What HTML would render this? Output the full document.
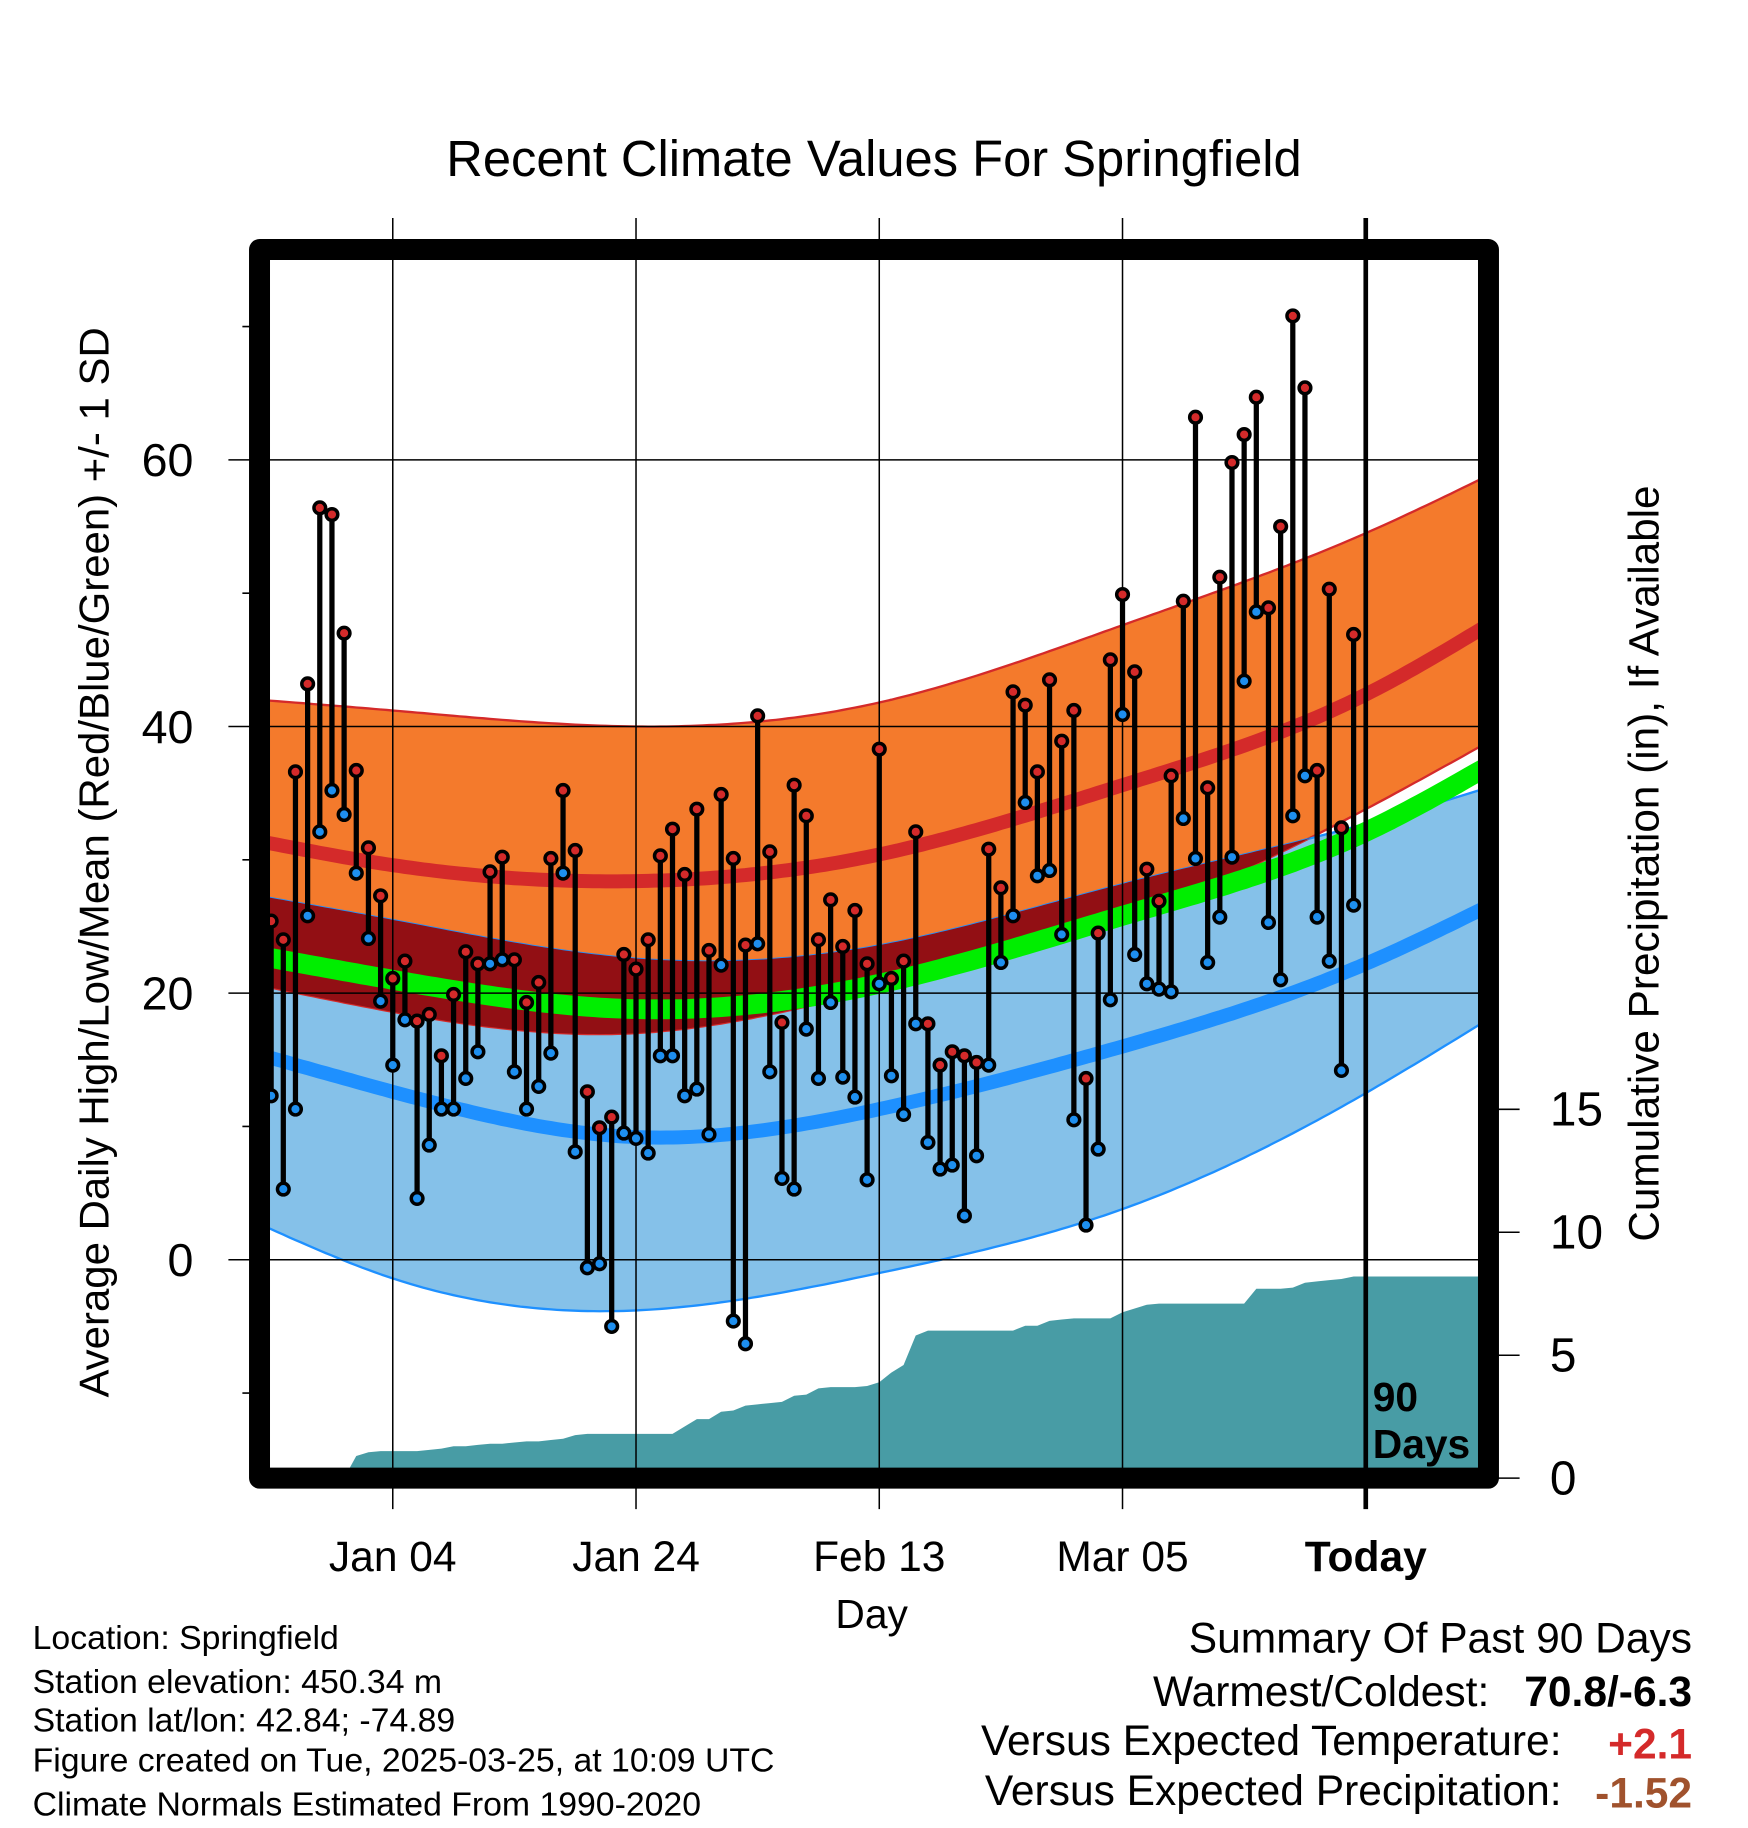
<!DOCTYPE html>
<html><head><meta charset="utf-8"><style>html,body{margin:0;padding:0;background:#fff}svg{display:block}text{font-family:"Liberation Sans",sans-serif}</style></head>
<body>
<svg id="chart" xmlns="http://www.w3.org/2000/svg" width="1748" height="1828" viewBox="0 0 1500 1568.6">
<rect x="0" y="0" width="1500" height="1568.6" fill="#fff"/>
<defs><clipPath id="pc"><rect x="222.7" y="214.1" width="1054.6" height="1054.3"/></clipPath></defs>
<text x="750" y="151" font-size="43.5" text-anchor="middle">Recent Climate Values For Springfield</text>
<g id="bands" clip-path="url(#pc)"></g>
<g id="grid"></g>
<g id="marks" clip-path="url(#pc)"></g>
<rect x="222.7" y="214.1" width="1054.6" height="1054.3" fill="none" stroke="#000" stroke-width="18" stroke-linejoin="round"/>
<text x="1178" y="1211" font-size="35" font-weight="bold">90</text>
<text x="1178" y="1251" font-size="35" font-weight="bold">Days</text>
<text transform="translate(93,740) rotate(-90)" font-size="36" text-anchor="middle">Average Daily High/Low/Mean (Red/Blue/Green) +/- 1 SD</text>
<text transform="translate(1423,741) rotate(-90)" font-size="36.3" text-anchor="middle">Cumulative Precipitation (in), If Available</text>
<text x="748" y="1397" font-size="35" text-anchor="middle">Day</text>
<g font-size="29">
<text x="28" y="1415">Location: Springfield</text>
<text x="28" y="1453">Station elevation: 450.34 m</text>
<text x="28" y="1486">Station lat/lon: 42.84; -74.89</text>
<text x="28" y="1520">Figure created on Tue, 2025-03-25, at 10:09 UTC</text>
<text x="28" y="1558">Climate Normals Estimated From 1990-2020</text>
</g>
<g font-size="36.5">
<text x="1452" y="1418" text-anchor="end">Summary Of Past 90 Days</text>
<text x="1278" y="1464" text-anchor="end">Warmest/Coldest:</text>
<text x="1452" y="1464" text-anchor="end" font-weight="bold">70.8/-6.3</text>
<text x="1340" y="1506" text-anchor="end">Versus Expected Temperature:</text>
<text x="1452" y="1509" text-anchor="end" font-weight="bold" fill="#d42a2a">+2.1</text>
<text x="1340" y="1549" text-anchor="end">Versus Expected Precipitation:</text>
<text x="1452" y="1551" text-anchor="end" font-weight="bold" fill="#a0522d">-1.52</text>
</g>
</svg>
<script>
const normDays=[-91,-80,-60,-40,-20,0,10];
const highUpper=[42,41.2,40,41.8,47.6,54.5,58.8];
const normHigh=[31.4,29.6,28.4,30.4,35.6,42.4,47.6];
const highLower=[20.6,18.6,17.0,20.3,25.5,33.8,38.8];
const normMean=[22.8,21,18.8,20.7,25.8,32.1,37];
const lowUpper=[27.3,25.5,22.6,23.6,28.2,32.7,35.4];
const normLow=[15.4,12.6,9.2,11.3,16,22.2,26.5];
const lowLower=[2.7,-1.4,-3.8,-1.0,3.8,12.5,18];
const highs=[25.4,24,36.6,43.2,56.4,55.9,47,36.7,30.9,27.3,21.1,22.4,17.9,18.4,15.3,19.9,23.1,22.2,29.1,30.2,22.5,19.3,20.8,30.1,35.2,30.7,12.6,9.9,10.7,22.9,21.8,24,30.3,32.3,28.9,33.8,23.2,34.9,30.1,23.6,40.8,30.6,17.8,35.6,33.3,24,27,23.5,26.2,22.2,38.3,21.1,22.4,32.1,17.7,14.6,15.6,15.3,14.8,30.8,27.9,42.6,41.6,36.6,43.5,38.9,41.2,13.6,24.5,45,49.9,44.1,29.3,26.9,36.3,49.4,63.2,35.4,51.2,59.8,61.9,64.7,48.9,55,70.8,65.4,36.7,50.3,32.4,46.9];
const lows=[12.3,5.3,11.3,25.8,32.1,35.2,33.4,29,24.1,19.4,14.6,18,4.6,8.6,11.3,11.3,13.6,15.6,22.2,22.5,14.1,11.3,13,15.5,29,8.1,-0.6,-0.3,-5,9.5,9.1,8,15.3,15.3,12.3,12.8,9.4,22.1,-4.6,-6.3,23.7,14.1,6.1,5.3,17.3,13.6,19.3,13.7,12.2,6,20.7,13.8,10.9,17.7,8.8,6.8,7.1,3.3,7.8,14.6,22.3,25.8,34.3,28.8,29.2,24.4,10.5,2.6,8.3,19.5,40.9,22.9,20.7,20.3,20.1,33.1,30.1,22.3,25.7,30.2,43.4,48.6,25.3,21,33.3,36.3,25.7,22.4,14.2,26.6];
const precipCum=[0,0,0,0,0,0,0,0.9,1.05,1.1,1.1,1.1,1.1,1.15,1.2,1.3,1.3,1.35,1.4,1.4,1.45,1.5,1.5,1.55,1.6,1.75,1.8,1.8,1.8,1.8,1.8,1.8,1.8,1.8,2.1,2.4,2.4,2.7,2.75,2.95,3.0,3.05,3.1,3.35,3.4,3.65,3.7,3.7,3.7,3.75,3.9,4.3,4.6,5.8,6.0,6.0,6.0,6.0,6.0,6.0,6.0,6.0,6.2,6.2,6.4,6.45,6.5,6.5,6.5,6.5,6.75,6.9,7.05,7.1,7.1,7.1,7.1,7.1,7.1,7.1,7.1,7.7,7.7,7.7,7.75,7.95,8.0,8.05,8.1,8.2];
const tempTicks=[0,20,40,60];
const tempMinor=[-10,10,30,50,70];
const precipTicks=[0,5,10,15];
const dateTicks=[-80,-60,-40,-20,0];
const dateLabels=["Jan 04","Jan 24","Feb 13","Mar 05","Today"];

const X0=222.7,X1=1277.3,Y0=214.1,Y1=1268.4;
const xS=d=>1172+d*10.437;
const yT=t=>1081-t*11.44;
const yP=p=>1268.4-p*21.1;
const NS="http://www.w3.org/2000/svg";
function mk(tag,attrs,parent){const e=document.createElementNS(NS,tag);for(const k in attrs)e.setAttribute(k,attrs[k]);parent.appendChild(e);return e;}
// natural cubic spline
function splineCoefs(ys){
  const xs=normDays,n=xs.length,h=[],al=[],l=[1],mu=[0],z=[0],c=new Array(n).fill(0);
  for(let i=0;i<n-1;i++)h.push(xs[i+1]-xs[i]);
  for(let i=1;i<n-1;i++)al[i]=3/h[i]*(ys[i+1]-ys[i])-3/h[i-1]*(ys[i]-ys[i-1]);
  for(let i=1;i<n-1;i++){l[i]=2*(xs[i+1]-xs[i-1])-h[i-1]*mu[i-1];mu[i]=h[i]/l[i];z[i]=(al[i]-h[i-1]*z[i-1])/l[i];}
  const b=[],d=[];
  for(let j=n-2;j>=0;j--){c[j]=(j===0?0:z[j]-mu[j]*c[j+1]);b[j]=(ys[j+1]-ys[j])/h[j]-h[j]*(c[j+1]+2*c[j])/3;d[j]=(c[j+1]-c[j])/(3*h[j]);}
  c[0]=0;
  for(let j=0;j<n-1;j++){b[j]=(ys[j+1]-ys[j])/h[j]-h[j]*(c[j+1]+2*c[j])/3;d[j]=(c[j+1]-c[j])/(3*h[j]);}
  return {b,c,d,ys};
}
const cache=new Map();
function interp(arr,x){
  if(!cache.has(arr))cache.set(arr,splineCoefs(arr));
  const s=cache.get(arr);
  let i=0;while(i<normDays.length-2&&x>normDays[i+1])i++;
  const dx=x-normDays[i];
  return s.ys[i]+s.b[i]*dx+s.c[i]*dx*dx+s.d[i]*dx*dx*dx;
}
const samp=[];for(let d=-91;d<=10.01;d+=0.5)samp.push(d);
function lineOf(arr){return samp.map(d=>xS(d).toFixed(1)+","+yT(interp(arr,d)).toFixed(1)).join(" ");}
function bandOf(fu,fl){
  const top=samp.map(d=>xS(d).toFixed(1)+","+yT(fu(d)).toFixed(1));
  const bot=samp.slice().reverse().map(d=>xS(d).toFixed(1)+","+yT(fl(d)).toFixed(1));
  return top.concat(bot).join(" ");
}
const bands=document.getElementById('bands');
const lb=mk('polygon',{points:bandOf(d=>interp(lowUpper,d),d=>interp(lowLower,d)),fill:'#85c1e9',stroke:'#1e90ff','stroke-width':2},bands);


const ob=mk('polygon',{points:bandOf(d=>interp(highUpper,d),d=>interp(highLower,d)),fill:'#f47a2c',stroke:'#d42a2a','stroke-width':2},bands);


const lbLine=mk('polyline',{points:lineOf(lowUpper),fill:'none',stroke:'#1e90ff','stroke-width':1.5},bands);


const ov=mk('polygon',{points:bandOf(d=>Math.max(interp(lowUpper,d),interp(highLower,d)),d=>interp(highLower,d)),fill:'#920f14'},bands);


const gl=mk('polyline',{points:lineOf(normMean),fill:'none',stroke:'#00ee00','stroke-width':17},bands);


const rl=mk('polyline',{points:lineOf(normHigh),fill:'none',stroke:'#d42a2a','stroke-width':12},bands);


const bl=mk('polyline',{points:lineOf(normLow),fill:'none',stroke:'#1e90ff','stroke-width':12},bands);


let pp=[xS(-90).toFixed(1)+","+yP(0)];
precipCum.forEach((v,i)=>pp.push(xS(i-90).toFixed(1)+","+yP(v).toFixed(1)));
pp.push(X1+","+yP(precipCum[precipCum.length-1]).toFixed(1));pp.push(X1+","+Y1);pp.push(xS(-90).toFixed(1)+","+Y1);
const pa=mk('polygon',{points:pp.join(" "),fill:'#489ca5'},bands);



const grid=document.getElementById('grid');
tempTicks.forEach(t=>{
  const l=mk('line',{x1:196,x2:X1,y1:yT(t),y2:yT(t),stroke:'#000','stroke-width':1.3},grid);
  
  
  const tx=mk('text',{x:166,y:yT(t)+14,'font-size':40,'text-anchor':'end'},grid);tx.textContent=t;
  
  
});
tempMinor.forEach(t=>{
  const l=mk('line',{x1:208,x2:X0,y1:yT(t),y2:yT(t),stroke:'#000','stroke-width':1.3},grid);
  
  
});
precipTicks.forEach(p=>{
  const l=mk('line',{x1:X1,x2:1304,y1:yP(p),y2:yP(p),stroke:'#000','stroke-width':1.3},grid);
  
  
  const tx=mk('text',{x:1330,y:yP(p)+14,'font-size':41},grid);tx.textContent=p;
  
  
});
dateTicks.forEach((d,i)=>{
  const today=d===0;
  const l=mk('line',{x1:xS(d),x2:xS(d),y1:187,y2:1295,stroke:'#000','stroke-width':today?4:1.3},grid);
  
  
  const tx=mk('text',{x:xS(d),y:1348,'font-size':36.5,'text-anchor':'middle','font-weight':today?'bold':'normal'},grid);tx.textContent=dateLabels[i];
  
  
});

const marks=document.getElementById('marks');
highs.forEach((h,i)=>{
  const x=xS(i-90);
  const st=mk('line',{x1:x,x2:x,y1:yT(h),y2:yT(lows[i]),stroke:'#000','stroke-width':4.5},marks);
  
  
});
highs.forEach((h,i)=>{
  const x=xS(i-90);
  const c1=mk('circle',{cx:x,cy:yT(h),r:5,fill:'#d42a2a',stroke:'#000','stroke-width':3},marks);
  
  
  const c2=mk('circle',{cx:x,cy:yT(lows[i]),r:5,fill:'#1e8fef',stroke:'#000','stroke-width':3},marks);
  
  
});
</script>
</body></html>
